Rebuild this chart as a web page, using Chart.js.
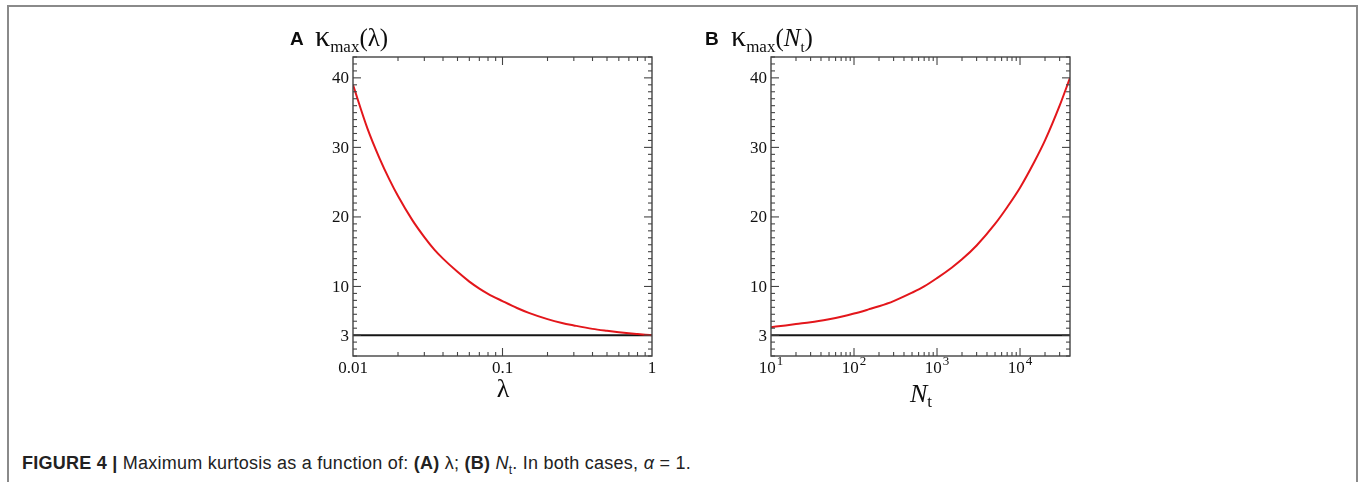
<!DOCTYPE html>
<html>
<head>
<meta charset="utf-8">
<script src="https://cdn.jsdelivr.net/npm/chart.js@4.4.1/dist/chart.umd.min.js"></script>
<style>
body { margin: 0; background: #fff; width: 1362px; height: 482px; overflow: hidden; position: relative; }
#frame { position: absolute; left: 7px; top: 5px; width: 1347px; height: 500px; border: 2px solid #8a8a8a; border-bottom: none; }
canvas { position: absolute; top: 0; }
.t { position: absolute; white-space: nowrap; line-height: 1; color: #0d0d0d; }
.serif { font-family: "Liberation Serif", "Times New Roman", serif; }
.lbl { font-family: "Liberation Sans", Arial, sans-serif; font-weight: bold; font-size: 19px; }
.sub { position: relative; }
#caption { font-family: "Liberation Sans", Arial, sans-serif; font-size: 18px; letter-spacing: 0.25px; color: #222; }
</style>
</head>
<body>
<div id="frame"></div>
<canvas id="chartA" width="420" height="420" style="left:270px"></canvas>
<canvas id="chartB" width="420" height="420" style="left:690px"></canvas>

<div class="t lbl" style="left:290px;top:29px">A</div>
<div class="t serif" style="left:315px;top:21px;font-size:30px">κ<span class="sub" style="font-size:17px;top:6px">max</span><span style="font-size:25px">(λ)</span></div>
<div class="t lbl" style="left:705px;top:29px">B</div>
<div class="t serif" style="left:731px;top:21px;font-size:30px">κ<span class="sub" style="font-size:17px;top:6px">max</span><span style="font-size:25px">(<i>N</i></span><span class="sub" style="font-size:15px;top:6px">t</span><span style="font-size:25px">)</span></div>

<div class="t serif" style="left:453px;width:100px;text-align:center;top:376px;font-size:26px">λ</div>
<div class="t serif" style="left:910px;top:381px;font-size:26px"><i>N</i><span class="sub" style="font-size:17px;top:5px">t</span></div>

<div class="t" id="caption" style="left:22px;top:454px"><b>FIGURE 4 |</b> Maximum kurtosis as a function of: <b>(A)</b> λ; <b>(B)</b> <i>N</i><sub style="font-size:12px">t</sub>. In both cases, <i>α</i> = 1.</div>

<script>
// panel A: kappa_max vs lambda
var lambdaVals = [0.01, 0.0125, 0.015, 0.0175, 0.02, 0.025, 0.03, 0.035, 0.04, 0.05, 0.06, 0.07, 0.08, 0.1, 0.125, 0.15, 0.2, 0.25, 0.3, 0.4, 0.5, 0.6, 0.7, 0.8, 0.9, 1];
var kappaLambda = [39.0, 32.7, 28.5, 25.4, 23.0, 19.5, 17.1, 15.3, 14.0, 12.1, 10.7, 9.7, 8.95, 7.9, 6.9, 6.2, 5.3, 4.75, 4.4, 3.9, 3.62, 3.42, 3.27, 3.16, 3.07, 3.0];

// panel B: kappa_max vs N_t
var nVals = [10, 15, 20, 30, 50, 70, 100, 150, 200, 300, 500, 700, 1000, 1500, 2000, 3000, 5000, 7000, 10000, 15000, 20000, 30000, 40000];
var kappaN = [4.15, 4.4, 4.6, 4.85, 5.3, 5.65, 6.1, 6.7, 7.15, 7.9, 9.1, 10.0, 11.2, 12.7, 13.9, 15.9, 19.0, 21.4, 24.2, 28.0, 31.0, 36.0, 40.0];

var gaussLevel = 3;
var yMajor = [3, 10, 20, 30, 40];
var xMajorA = [0.01, 0.1, 1];
var xLabelsA = ['0.01', '0.1', '1'];
var xMajorB = [10, 100, 1000, 10000];
var xExpB = ['1', '2', '3', '4'];

var tickFont = '17px "Liberation Serif", "Times New Roman", serif';

function seg(ctx, x1, y1, x2, y2) {
    ctx.beginPath();
    ctx.moveTo(x1, y1);
    ctx.lineTo(x2, y2);
    ctx.stroke();
}

// box, inward ticks on all four sides, tick labels
var frameTicks = {
    id: 'frameTicks',
    afterDatasetsDraw: function (chart, args, opts) {
        var ctx = chart.ctx, a = chart.chartArea;
        var xs = chart.scales.x, ys = chart.scales.y;
        ctx.save();
        ctx.strokeStyle = '#444';
        ctx.lineWidth = 1.4;
        ctx.strokeRect(a.left, a.top, a.right - a.left, a.bottom - a.top);
        ctx.lineWidth = 1.1;
        for (var v = Math.ceil(ys.min); v <= ys.max; v++) {
            var y = ys.getPixelForValue(v);
            var len = yMajor.indexOf(v) >= 0 ? 8 : 4;
            seg(ctx, a.left, y, a.left + len, y);
            seg(ctx, a.right, y, a.right - len, y);
        }
        var k0 = Math.floor(Math.log10(xs.min)), k1 = Math.ceil(Math.log10(xs.max));
        for (var k = k0; k <= k1; k++) {
            for (var d = 1; d <= 9; d++) {
                var xv = d * Math.pow(10, k);
                if (xv <= xs.min * 1.0001 || xv >= xs.max * 0.9999) continue;
                var x = xs.getPixelForValue(xv);
                var l = d === 1 ? 8 : 4;
                seg(ctx, x, a.bottom, x, a.bottom - l);
                seg(ctx, x, a.top, x, a.top + l);
            }
        }
        ctx.fillStyle = '#111';
        ctx.font = tickFont;
        ctx.textAlign = 'right';
        ctx.textBaseline = 'middle';
        yMajor.forEach(function (v) {
            ctx.fillText(String(v), a.left - 4, ys.getPixelForValue(v) + 1);
        });
        ctx.textBaseline = 'alphabetic';
        var base = a.bottom + 17;
        opts.xTicks.forEach(function (v, i) {
            var x = xs.getPixelForValue(v);
            if (opts.exps) {
                ctx.font = tickFont;
                var w1 = ctx.measureText('10').width;
                ctx.font = '13px "Liberation Serif", serif';
                var w2 = ctx.measureText(opts.exps[i]).width;
                var x0 = x - (w1 + w2 + 1) / 2;
                ctx.textAlign = 'left';
                ctx.fillText(opts.exps[i], x0 + w1 + 1, base - 8);
                ctx.font = tickFont;
                ctx.fillText('10', x0, base);
            } else {
                ctx.textAlign = 'center';
                ctx.fillText(opts.labels[i], x, base);
            }
        });
        ctx.restore();
    }
};

function pts(xv, yv) {
    return xv.map(function (x, i) { return { x: x, y: yv[i] }; });
}

function makeChart(id, xv, yv, xmin, xmax, pad, tickOpts) {
    return new Chart(document.getElementById(id), {
        type: 'line',
        data: {
            datasets: [{
                data: pts(xv, yv),
                borderColor: '#e3161b',
                borderWidth: 2,
                pointRadius: 0,
                cubicInterpolationMode: 'monotone',
                fill: false
            }, {
                data: [{ x: xmin, y: gaussLevel }, { x: xmax, y: gaussLevel }],
                borderColor: '#151515',
                borderWidth: 2,
                pointRadius: 0,
                fill: false
            }]
        },
        options: {
            responsive: false,
            animation: false,
            layout: { padding: pad },
            plugins: { legend: { display: false }, tooltip: { enabled: false }, frameTicks: tickOpts },
            scales: {
                x: { type: 'logarithmic', min: xmin, max: xmax, display: false },
                y: { type: 'linear', min: 0, max: 43, display: false }
            }
        },
        plugins: [frameTicks]
    });
}

makeChart('chartA', lambdaVals, kappaLambda, 0.01, 1,
    { left: 83, right: 38, top: 57, bottom: 64 },
    { xTicks: xMajorA, labels: xLabelsA });
makeChart('chartB', nVals, kappaN, 10, 40000,
    { left: 81, right: 40, top: 57, bottom: 64 },
    { xTicks: xMajorB, exps: xExpB });
</script>
</body>
</html>
